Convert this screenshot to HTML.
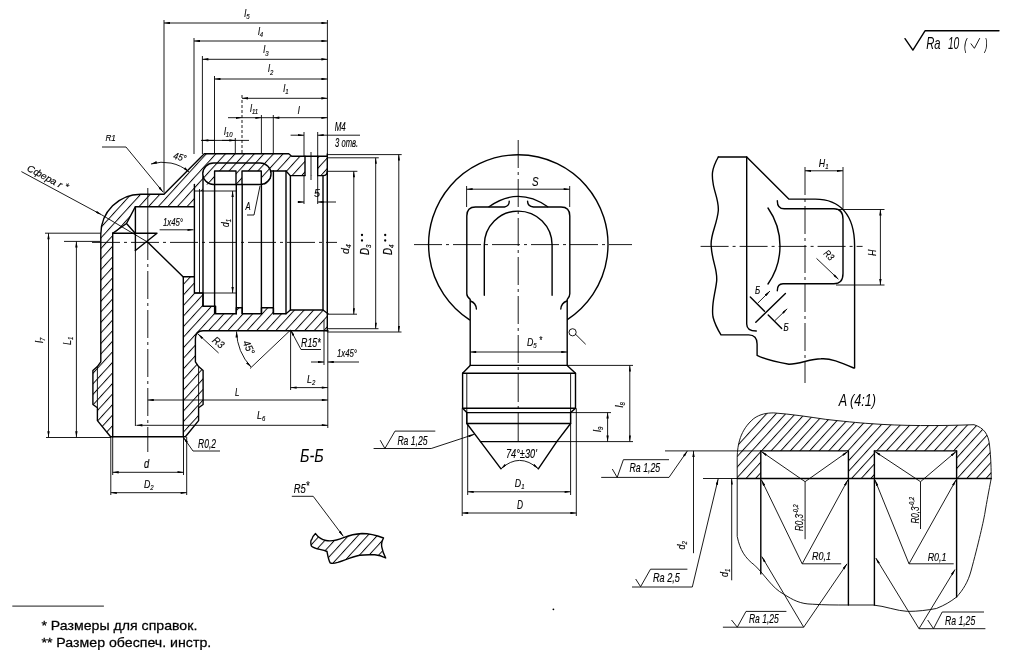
<!DOCTYPE html>
<html><head><meta charset="utf-8"><style>
html,body{margin:0;padding:0;background:#fff;width:1012px;height:650px;overflow:hidden}
svg{display:block;filter:grayscale(1)}
.k{stroke:#000;stroke-width:1.4;fill:none;stroke-linejoin:round;stroke-linecap:round}
.t{stroke:#000;stroke-width:0.9;fill:none}
.cl{stroke:#000;stroke-width:0.9;fill:none;stroke-dasharray:28 4 3 4}
.it{font-family:"Liberation Sans",sans-serif;font-style:italic;fill:#000;stroke:#000;stroke-width:0.15}
.thin{stroke:none}
.nt{font-family:"Liberation Sans",sans-serif;fill:#000;stroke:#000;stroke-width:0.25}
</style></head><body>
<svg width="1012" height="650" viewBox="0 0 1012 650">
<defs>
<marker id="ar" viewBox="0 0 10 4" refX="10" refY="2" markerWidth="8" markerHeight="2.4" markerUnits="userSpaceOnUse" orient="auto-start-reverse"><path d="M0,0 L10,2 L0,4 Z" fill="#000"/></marker>
<pattern id="h6" width="7.1" height="7.1" patternUnits="userSpaceOnUse" patternTransform="rotate(42.3)"><line x1="0.5" y1="-1" x2="0.5" y2="9" stroke="#000" stroke-width="0.95"/></pattern>
<pattern id="h10" width="7.1" height="7.1" patternUnits="userSpaceOnUse" patternTransform="rotate(42.3)"><line x1="0.5" y1="-1" x2="0.5" y2="9" stroke="#000" stroke-width="0.95"/></pattern>
<pattern id="h9" width="7.1" height="7.1" patternUnits="userSpaceOnUse" patternTransform="rotate(42.3)"><line x1="0.5" y1="-1" x2="0.5" y2="9" stroke="#000" stroke-width="0.95"/></pattern>
</defs>
<rect width="1012" height="650" fill="#fff"/>

<path fill="url(#h6)" d="M327.3,156.3 L291.7,156.3 L288.7,153.8 L204.3,153.8 L164,194.2 L141,194.2 A40,40 0 0 0 101,234.2 L113,234.2 L126.5,223.5 L135.4,206.7 L194.4,206.7 L194.4,191 L202.8,191 L202.8,184.5 L271,184.5 L271,171 L286,171 L290.2,175.6 L327.3,175.6 Z"/>
<path fill="url(#h10)" d="M100.8,234 L100.8,361.8 L97.4,366.6 L92.9,370.6 L92.9,404.5 L97.4,407.7 L97.4,420.6 L110.6,436.8 L112.7,436.8 L112.7,234 Z"/>
<path fill="url(#h6)" d="M183.3,436.8 L185.4,436.8 L198.6,420.6 L198.6,407.7 L203.1,404.5 L203.1,370.6 L198.6,366.6 L195.4,361.8 L195.4,339 Q195.4,330.8 203,330.8 L328,330.8 L328,313.7 L323,310 L290.4,310 L286,313.7 L273.4,313.7 L273.4,307.8 L261.5,307.8 L261.5,313.7 L242.2,313.7 L242.2,307.8 L236.3,307.8 L236.3,313.7 L215.6,313.7 L215.6,306.3 L203,306.3 L203,293 L194.1,293 L194.1,276.7 L183.3,276.7 Z"/>
<path fill="#fff" d="M214.6,171 H236 V184.5 H214.6 Z M242,171 H261.3 V184.5 H242 Z M305,156.3 H317.7 V175.6 H305 Z"/>
<path class="k" d="M327.3,156.3 L291.7,156.3 L288.7,153.8 L204.3,153.8 L164,194.2 L141,194.2 A40,40 0 0 0 100.8,234.2 L100.8,361.8 L97.4,366.6 L92.9,370.6 L92.9,404.5 L97.4,407.7 L97.4,420.6 L110.6,436.8 L185.4,436.8 L198.6,420.6 L198.6,407.7 L203.1,404.5 L203.1,370.6 L198.6,366.6 L195.4,361.8 L195.4,339 Q195.4,330.8 203,330.8 L328,330.8" />
<path class="k" d="M112.7,436.8 V233.2" />
<path class="k" d="M183.3,436.8 V276.7 H194.1" />
<path class="t" d="M97.4,366.6 V407.7" />
<path class="t" d="M198.6,366.6 V407.7" />
<path class="k" d="M135.4,250.5 V206.7 H194.4 V293 H203 V306.3 H215.6 V313.7 H236.3 V307.8 H242.2 V313.7 H261.5 V307.8 H273.4 V313.7 H286 L290.4,310 H323 L328,313.7" />
<path class="k" d="M126.5,223.5 L135.4,206.7 M126.5,223.5 L112.7,233.2 M126.5,223.5 L135.4,233.5" />
<path class="k" d="M112.7,233.2 H157 L135.4,250.5" />
<path class="k" d="M147.5,242 L183.3,277" />
<path class="k" d="M213.5,163 H260.3 A10.75,10.75 0 0 1 260.3,184.5 H213.5 A10.75,10.75 0 0 1 213.5,163 Z" />
<path class="k" d="M214.6,171 H236 V184.5 M214.6,171 V184.5 M242,171 H261.3 V184.5 M242,171 V184.5" />
<path class="k" d="M271,171 H286 L290.2,175.6 H305 M317.7,175.6 H323 Q327.3,175.6 327.3,171" />
<path class="k" d="M305,156.3 V175.6 M317.7,156.3 V175.6" />
<line class="cl" x1="311" y1="152" x2="311" y2="180" />
<line class="t" x1="199.5" y1="189" x2="199.5" y2="293" />
<line class="k" x1="203" y1="177" x2="203" y2="306.3" />
<line class="k" x1="214.6" y1="184.5" x2="214.6" y2="313.7" />
<line class="k" x1="236.3" y1="184.5" x2="236.3" y2="313.7" />
<line class="k" x1="242.2" y1="184.5" x2="242.2" y2="313.7" />
<line class="k" x1="261.4" y1="184.5" x2="261.4" y2="313.7" />
<line class="k" x1="273.4" y1="171" x2="273.4" y2="313.7" />
<line class="k" x1="286" y1="171" x2="286" y2="313.7" />
<line class="k" x1="290.4" y1="175.6" x2="290.4" y2="310" />
<line class="k" x1="323" y1="175.6" x2="323" y2="310" />
<line class="k" x1="327.3" y1="154" x2="327.3" y2="331" />
<line class="k" x1="194.4" y1="184.5" x2="194.4" y2="207" />
<line class="t" x1="194.4" y1="191" x2="236" y2="191" />
<line class="t" x1="194.1" y1="293" x2="236.3" y2="293" />
<line class="t" x1="232.6" y1="191" x2="232.6" y2="293" marker-start="url(#ar)" marker-end="url(#ar)"/>
<text class="it" transform="translate(228.5,227) rotate(-90) scale(0.8,1)" font-size="10.5" text-anchor="start" >d<tspan font-size="7.5" dy="2">1</tspan></text>
<line class="cl" x1="92" y1="242.4" x2="337" y2="242.4" />
<line class="t" x1="147.8" y1="188" x2="147.8" y2="232" />
<line class="cl" x1="147.8" y1="232" x2="147.8" y2="452" />
<line class="t" x1="164" y1="23" x2="327.4" y2="23" marker-start="url(#ar)" marker-end="url(#ar)"/>
<line class="t" x1="194" y1="41" x2="327.4" y2="41" marker-start="url(#ar)" marker-end="url(#ar)"/>
<line class="t" x1="202.4" y1="59.3" x2="327.4" y2="59.3" marker-start="url(#ar)" marker-end="url(#ar)"/>
<line class="t" x1="214.5" y1="79" x2="327.4" y2="79" marker-start="url(#ar)" marker-end="url(#ar)"/>
<line class="t" x1="242" y1="98.3" x2="327.4" y2="98.3" marker-start="url(#ar)" marker-end="url(#ar)"/>
<line class="t" x1="228" y1="117.7" x2="242" y2="117.7" marker-end="url(#ar)"/>
<line class="t" x1="242" y1="117.7" x2="261.4" y2="117.7" marker-end="url(#ar)"/>
<line class="t" x1="261.4" y1="117.7" x2="273.3" y2="117.7" />
<line class="t" x1="273.3" y1="117.7" x2="327.4" y2="117.7" marker-start="url(#ar)" marker-end="url(#ar)"/>
<line class="t" x1="201" y1="140.4" x2="249" y2="140.4" />
<line class="t" x1="214" y1="140.4" x2="202.4" y2="140.4" marker-end="url(#ar)"/>
<line class="t" x1="222" y1="140.4" x2="235.3" y2="140.4" marker-end="url(#ar)"/>
<line class="t" x1="290.6" y1="135.2" x2="304" y2="135.2" marker-end="url(#ar)"/>
<line class="t" x1="360" y1="135.2" x2="317.7" y2="135.2" marker-end="url(#ar)"/>
<line class="t" x1="164" y1="20" x2="164" y2="193" />
<line class="t" x1="194" y1="38" x2="194" y2="154" />
<line class="t" x1="202.4" y1="56" x2="202.4" y2="154" />
<line class="t" x1="214.5" y1="76" x2="214.5" y2="154" />
<line class="t" x1="235.3" y1="138" x2="235.3" y2="154" />
<line class="t" x1="261.4" y1="115" x2="261.4" y2="154" />
<line class="t" x1="273.3" y1="115" x2="273.3" y2="154" />
<line class="t" x1="304" y1="132" x2="304" y2="156" />
<line class="t" x1="317.7" y1="132" x2="317.7" y2="156" />
<line class="t" x1="327.4" y1="20" x2="327.4" y2="156" />
<line class="t" x1="242" y1="95" x2="242" y2="154" stroke-dasharray="3 2" stroke-width="0.7"/>
<text class="it" transform="translate(244.3,16.7) scale(0.8,1)" font-size="11" text-anchor="start" >l<tspan font-size="7.5" dy="2.5">5</tspan></text>
<text class="it" transform="translate(257.9,34.6) scale(0.8,1)" font-size="11" text-anchor="start" >l<tspan font-size="7.5" dy="2.5">4</tspan></text>
<text class="it" transform="translate(263.3,53.4) scale(0.8,1)" font-size="11" text-anchor="start" >l<tspan font-size="7.5" dy="2.5">3</tspan></text>
<text class="it" transform="translate(268,72.3) scale(0.8,1)" font-size="11" text-anchor="start" >l<tspan font-size="7.5" dy="2.5">2</tspan></text>
<text class="it" transform="translate(283.2,91.7) scale(0.8,1)" font-size="11" text-anchor="start" >l<tspan font-size="7.5" dy="2.5">1</tspan></text>
<text class="it" transform="translate(250,111.8) scale(0.8,1)" font-size="11" text-anchor="start" >l<tspan font-size="7.5" dy="2.5">11</tspan></text>
<text class="it" transform="translate(297.7,113.6) scale(0.8,1)" font-size="11" text-anchor="start" >l</text>
<text class="it" transform="translate(223.9,134.5) scale(0.8,1)" font-size="11" text-anchor="start" >l<tspan font-size="7.5" dy="2.5">10</tspan></text>
<text class="it" transform="translate(334.70,130.9) scale(0.654,1)" font-size="12.21">M4</text>
<text class="it" transform="translate(335.00,147.2) scale(0.612,1)" font-size="12.50">3 отв.</text>
<path class="t" d="M102,147 H126 L163,192" marker-end="url(#ar)"/>
<text class="it" transform="translate(105.40,140.8) scale(0.847,1)" font-size="9.59">R1</text>
<path class="t" d="M151,164 A40,40 0 0 1 189,172" marker-start="url(#ar)" marker-end="url(#ar)"/>
<text class="it" transform="translate(172.8,158.6) rotate(15) scale(0.9,1)" font-size="9.5" text-anchor="start" >45°</text>
<line class="t" x1="21.4" y1="171.6" x2="101.6" y2="214.8" marker-end="url(#ar)"/>
<line class="t" x1="101.6" y1="214.8" x2="147.5" y2="242" />
<text class="it" transform="translate(26.3,170.2) rotate(28.2) scale(1.05,1)" font-size="9.5" text-anchor="start" >Сфера r <tspan dy="-1.5">*</tspan></text>
<line class="t" x1="159.6" y1="229.8" x2="193.5" y2="229.8" marker-end="url(#ar)"/>
<text class="it" transform="translate(163.00,226) scale(0.669,1)" font-size="11.63">1x45°</text>
<line class="t" x1="45" y1="233.2" x2="101" y2="233.2" />
<line class="t" x1="64" y1="241.4" x2="100" y2="241.4" />
<line class="t" x1="48.5" y1="233.2" x2="48.5" y2="437.3" marker-start="url(#ar)" marker-end="url(#ar)"/>
<line class="t" x1="76.4" y1="241.4" x2="76.4" y2="437.3" marker-start="url(#ar)" marker-end="url(#ar)"/>
<line class="t" x1="46" y1="437.5" x2="111" y2="437.5" />
<text class="it" transform="translate(43,343) rotate(-90) scale(0.8,1)" font-size="11" text-anchor="start" >l<tspan font-size="7.5" dy="2">7</tspan></text>
<text class="it" transform="translate(71,345) rotate(-90) scale(0.8,1)" font-size="11" text-anchor="start" >L<tspan font-size="7.5" dy="2">1</tspan></text>
<line class="t" x1="327.4" y1="154.6" x2="401.7" y2="154.6" />
<line class="t" x1="327.4" y1="157.8" x2="378.8" y2="157.8" />
<line class="t" x1="327.4" y1="171.3" x2="357.4" y2="171.3" />
<line class="t" x1="327.4" y1="314.2" x2="357" y2="314.2" />
<line class="t" x1="327.4" y1="328.7" x2="378.5" y2="328.7" />
<line class="t" x1="327.4" y1="332" x2="401.5" y2="332" />
<line class="t" x1="353.8" y1="171.3" x2="353.8" y2="314.2" marker-start="url(#ar)" marker-end="url(#ar)"/>
<line class="t" x1="375.7" y1="157.8" x2="375.7" y2="328.7" marker-start="url(#ar)" marker-end="url(#ar)"/>
<line class="t" x1="398.8" y1="154.6" x2="398.8" y2="332" marker-start="url(#ar)" marker-end="url(#ar)"/>
<text class="it" transform="translate(348.8,254) rotate(-90) scale(0.95,1)" font-size="11" text-anchor="start" >d<tspan font-size="7.5" dy="2">4</tspan></text>
<text class="it" transform="translate(369,255) rotate(-90) scale(0.82,1)" font-size="12" text-anchor="start" >D<tspan font-size="7.5" dy="2">3</tspan></text>
<circle cx="362" cy="235" r="1.15"/><circle cx="362" cy="240.5" r="1.15"/>
<text class="it" transform="translate(391.8,255) rotate(-90) scale(0.82,1)" font-size="12" text-anchor="start" >D<tspan font-size="7.5" dy="2">4</tspan></text>
<circle cx="385.2" cy="235" r="1.15"/><circle cx="385.2" cy="240.5" r="1.15"/>
<line class="t" x1="297.6" y1="202" x2="304" y2="202" marker-end="url(#ar)"/>
<line class="t" x1="336" y1="202" x2="317.7" y2="202" marker-end="url(#ar)"/>
<line class="t" x1="304" y1="176" x2="304" y2="204" />
<line class="t" x1="317.7" y1="176" x2="317.7" y2="204" />
<text class="it" transform="translate(314.00,197) scale(1.053,1)" font-size="10.17">5</text>
<path class="t" d="M247,215 H254 L260,186" />
<text class="it" transform="translate(245.38,210) scale(0.657,1)" font-size="11.63">A</text>
<path class="t" d="M198,334 L218.6,353" marker-start="url(#ar)"/>
<text class="it" transform="translate(211.5,341.5) rotate(38) scale(0.9,1)" font-size="10.5" text-anchor="start" >R3</text>
<line class="t" x1="290.6" y1="330" x2="250" y2="368.5" />
<path class="t" d="M236.5,331.5 A55,55 0 0 0 251,367" marker-start="url(#ar)" marker-end="url(#ar)"/>
<text class="it" transform="translate(242.5,342.5) rotate(65) scale(0.9,1)" font-size="10.5" text-anchor="start" >45°</text>
<path class="t" d="M290.6,330 L301,349.5 H321" marker-start="url(#ar)"/>
<text class="it" transform="translate(301.00,347) scale(0.719,1)" font-size="12.35">R15*</text>
<line class="t" x1="290.6" y1="331" x2="290.6" y2="390" />
<line class="t" x1="324" y1="320" x2="324" y2="365" />
<line class="t" x1="311" y1="362" x2="324" y2="362" marker-end="url(#ar)"/>
<line class="t" x1="359" y1="362" x2="327.8" y2="362" marker-end="url(#ar)"/>
<text class="it" transform="translate(337.00,356.8) scale(0.669,1)" font-size="11.63">1x45°</text>
<line class="t" x1="290.6" y1="387.6" x2="327.8" y2="387.6" marker-start="url(#ar)" marker-end="url(#ar)"/>
<text class="it" transform="translate(307,383) scale(0.8,1)" font-size="11" text-anchor="start" >L<tspan font-size="7.5" dy="2">2</tspan></text>
<line class="t" x1="327.8" y1="331" x2="327.8" y2="428" />
<line class="t" x1="147.8" y1="400" x2="327.8" y2="400" marker-start="url(#ar)" marker-end="url(#ar)"/>
<text class="it" transform="translate(235.00,396) scale(0.691,1)" font-size="11.63">L</text>
<line class="t" x1="136.4" y1="425.3" x2="327.8" y2="425.3" marker-start="url(#ar)" marker-end="url(#ar)"/>
<line class="t" x1="135.4" y1="250.5" x2="135.4" y2="426" />
<text class="it" transform="translate(257,419) scale(0.8,1)" font-size="11" text-anchor="start" >L<tspan font-size="7.5" dy="2">6</tspan></text>
<path class="t" d="M183.5,437.5 L193,451 H220" marker-start="url(#ar)"/>
<text class="it" transform="translate(198.00,447.5) scale(0.690,1)" font-size="12.35">R0,2</text>
<line class="t" x1="112.7" y1="437" x2="112.7" y2="475" />
<line class="t" x1="183.5" y1="437" x2="183.5" y2="475" />
<line class="t" x1="110.8" y1="437" x2="110.8" y2="495" />
<line class="t" x1="186.7" y1="437" x2="186.7" y2="495" />
<line class="t" x1="112.7" y1="472.3" x2="183.5" y2="472.3" marker-start="url(#ar)" marker-end="url(#ar)"/>
<line class="t" x1="110.8" y1="492.7" x2="186.7" y2="492.7" marker-start="url(#ar)" marker-end="url(#ar)"/>
<text class="it" transform="translate(144.00,468) scale(0.755,1)" font-size="12.35">d</text>
<text class="it" transform="translate(144,487.5) scale(0.8,1)" font-size="11" text-anchor="start" >D<tspan font-size="7.5" dy="2">2</tspan></text>
<text class="it thin" transform="translate(300.00,461.8) scale(0.810,1)" font-size="17.88">Б-Б</text>
<path class="k" d="M469.6,319.8 A89.7,89.7 0 1 1 567,319.8" />
<path fill="#fff" d="M466.8,294 V216 Q466.8,207 475.5,207 H561 Q569.8,207 569.8,216 V294 Q569.8,299 567,301 V366 H470.2 V301 Q466.8,299 466.8,294 Z"/>
<path class="k" d="M470.2,365.4 V299.4 Q466.8,297 466.8,293.8 V216 Q466.8,207 475.5,207 H504.5 Q509.5,206 509.2,201.3" />
<path class="k" d="M567.2,365.4 V299.4 Q569.8,297 569.8,293.8 V216 Q569.8,207 561,207 H533.5 Q527.5,206 527.6,201.3" />
<path class="k" d="M489,206.7 Q518.2,186 547.7,206.7" />
<path class="k" d="M470.5,301 Q476,303 476.4,309 M566.8,301 Q561.3,303 560.8,309" />
<path class="k" d="M484.3,295.2 V245 A33.9,33.9 0 0 1 552.1,245 V295.2" />
<line class="cl" x1="414" y1="244.6" x2="632" y2="244.6" />
<line class="cl" x1="518.2" y1="140" x2="518.2" y2="442" />
<line class="t" x1="466.6" y1="186" x2="466.6" y2="207" />
<line class="t" x1="569.7" y1="186" x2="569.7" y2="207" />
<line class="t" x1="466.6" y1="189.2" x2="569.7" y2="189.2" marker-start="url(#ar)" marker-end="url(#ar)"/>
<text class="it" transform="translate(532.00,185.5) scale(0.797,1)" font-size="12.35">S</text>
<line class="t" x1="470.2" y1="352" x2="567.2" y2="352" marker-start="url(#ar)" marker-end="url(#ar)"/>
<text class="it" transform="translate(527,346.4) scale(0.8,1)" font-size="11" text-anchor="start" >D<tspan font-size="7.5" dy="2">5</tspan><tspan dy="-4" font-size="10"> *</tspan></text>
<circle cx="572.6" cy="332.3" r="3.6" class="t"/>
<line class="t" x1="575.5" y1="334.2" x2="585.7" y2="344.3" />
<path class="k" d="M470.2,365.4 H567.2 L575.5,373.3 V408.3 L570.6,412.6 V423.5 L556.8,441.6 M470.2,365.4 L462.6,373.3 V408.3 L466.8,412.6 V423.5 L480.5,441.6" />
<path class="k" d="M462.6,373.3 H575.5 M462.6,408.3 H575.5 M466.8,412.6 H570.6 M466.8,423.5 H570.6 M480.5,441.6 H556.8" />
<path class="k" d="M480.5,441.6 L501,468.8 M556.8,441.6 L538.3,468.8" />
<line class="t" x1="466.8" y1="373.3" x2="466.8" y2="423.5" />
<line class="t" x1="570.6" y1="373.3" x2="570.6" y2="423.5" />
<path class="t" d="M501,468.8 Q519.6,452 538.3,468.8" marker-start="url(#ar)" marker-end="url(#ar)"/>
<text class="it" transform="translate(505.90,457.8) scale(0.690,1)" font-size="13.37">74°±30'</text>
<line class="t" x1="567.2" y1="365.4" x2="633" y2="365.4" />
<line class="t" x1="570.6" y1="412.6" x2="611" y2="412.6" />
<line class="t" x1="556.8" y1="441.6" x2="633" y2="441.6" />
<line class="t" x1="629.8" y1="365.4" x2="629.8" y2="441.6" marker-start="url(#ar)" marker-end="url(#ar)"/>
<line class="t" x1="607.6" y1="412.6" x2="607.6" y2="441.6" marker-start="url(#ar)" marker-end="url(#ar)"/>
<text class="it" transform="translate(622.5,407.5) rotate(-90) scale(0.8,1)" font-size="11" text-anchor="start" >l<tspan font-size="7.5" dy="2">8</tspan></text>
<text class="it" transform="translate(600.5,432) rotate(-90) scale(0.8,1)" font-size="11" text-anchor="start" >l<tspan font-size="7.5" dy="2">9</tspan></text>
<line class="t" x1="467.7" y1="423.5" x2="467.7" y2="495" />
<line class="t" x1="570.6" y1="423.5" x2="570.6" y2="495" />
<line class="t" x1="462.2" y1="408.3" x2="462.2" y2="516" />
<line class="t" x1="576.3" y1="408.3" x2="576.3" y2="516" />
<line class="t" x1="467.7" y1="491.8" x2="570.6" y2="491.8" marker-start="url(#ar)" marker-end="url(#ar)"/>
<line class="t" x1="462.2" y1="513" x2="576.3" y2="513" marker-start="url(#ar)" marker-end="url(#ar)"/>
<text class="it" transform="translate(514.8,487) scale(0.8,1)" font-size="11" text-anchor="start" >D<tspan font-size="7.5" dy="2">1</tspan></text>
<text class="it" transform="translate(517.00,509) scale(0.637,1)" font-size="13.08">D</text>
<path class="t" d="M380.2,440.2 L384.9,448.5 L395,431.1 H435.3" />
<path class="t" d="M373.6,448.5 H431.2 L474.4,434.3" marker-end="url(#ar)"/>
<text class="it" transform="translate(397.40,444.5) scale(0.722,1)" font-size="11.92">Ra 1,25</text>
<path class="k" d="M718.3,157 C711,170 712,176 713,182.5 C714,192 719,200 718.3,210.8 C717,225 710,235 711.2,246 C712,262 718,270 716.6,281.6 C715,295 711,305 713,317 C715,325 718,330 721,334.9 H748.7 Q757.1,335 757.1,344 V355.4 C762,358 770,361 789,364.3 C800,364 810,359 821,358.8 C830,358 840,362 853.7,368" />
<path class="k" d="M718.3,157 H746.7 L788.8,199.1 H815.3 C840,199.1 854.6,215 854.6,245.7 V368" />
<path class="k" d="M746.7,157 V324 Q746.7,331 756.3,331" />
<path class="k" d="M777.3,200.7 Q777.3,208.8 784.2,208.8 H833.8 Q843,208.8 843,219.2 V273.6 Q843,283.8 833.8,283.8 H783 Q777.3,283.8 777.3,290.7" />
<path class="k" d="M768,208 A66.2,66.2 0 0 1 768,284" />
<line class="cl" x1="700.6" y1="246.4" x2="862.6" y2="246.4" />
<line class="cl" x1="805" y1="167" x2="805" y2="383" />
<line class="t" x1="843" y1="167" x2="843" y2="208.8" />
<line class="t" x1="805" y1="170.8" x2="843" y2="170.8" marker-start="url(#ar)" marker-end="url(#ar)"/>
<text class="it" transform="translate(818.8,166.5) scale(0.8,1)" font-size="11" text-anchor="start" >H<tspan font-size="7.5" dy="2">1</tspan></text>
<line class="t" x1="836" y1="209.5" x2="884.5" y2="209.5" />
<line class="t" x1="836" y1="285" x2="884.5" y2="285" />
<line class="t" x1="880.4" y1="209.5" x2="880.4" y2="285" marker-start="url(#ar)" marker-end="url(#ar)"/>
<text class="it" transform="translate(875.5,256) rotate(-90) scale(0.8,1)" font-size="11" text-anchor="start" >H</text>
<line class="t" x1="816.5" y1="258.4" x2="838.4" y2="279.2" marker-end="url(#ar)"/>
<text class="it" transform="translate(823,254) rotate(45) scale(0.8,1)" font-size="10" text-anchor="start" >R3</text>
<line class="k" x1="750.3" y1="297" x2="764.5" y2="311.2" />
<line class="k" x1="768.2" y1="315" x2="781.7" y2="328.5" />
<line class="k" x1="755.8" y1="322.3" x2="785.4" y2="293.4" />
<line class="t" x1="757.7" y1="303.2" x2="770" y2="291" marker-end="url(#ar)"/>
<line class="t" x1="775" y1="320.5" x2="787.2" y2="308.8" marker-end="url(#ar)"/>
<text class="it" transform="translate(755,294) scale(0.8,1)" font-size="10" text-anchor="start" >Б</text>
<text class="it" transform="translate(783.5,331) scale(0.8,1)" font-size="10" text-anchor="start" >Б</text>
<path fill="url(#h9)" d="M737.2,478.5 V457.3 C737.5,445 740,430 753.7,418.6 C760,414 767,412.9 773.7,412.9 C790,414 810,417 825.3,419.3 C840,421 860,423 870,423.6 C900,426 940,426 974,424.7 C984,428 988.3,434 989.5,445 C991,458 991.2,470 991.2,478.5 Z"/>
<path fill="#fff" d="M760.8,450.9 H848 V479 H760.8 Z M874.4,450.9 H956.6 V479 H874.4 Z"/>
<path class="t" d="M737.2,478.5 V457.3 C737.5,445 740,430 753.7,418.6 C760,414 767,412.9 773.7,412.9 C790,414 810,417 825.3,419.3 C840,421 860,423 870,423.6 C900,426 940,426 974,424.7 C984,428 988.3,434 989.5,445 C991,458 991.2,470 991.2,478.5" stroke-width="1.15"/>
<path class="t" d="M737.2,478.5 V536.4 C740,550 745,558 754.6,565.2 C765,575 772,588 783.5,594 C793,600 800,604 812.3,604.2 C825,605 835,605 847,605 H873 C885,606 897,611 907.5,611.4 C918,611.5 928,610 936.4,608.5 C945,605 950,602 956.6,597 C963,590 968,582 971,571 C978,545 984,520 985.4,510 C988,495 990,485 991.2,478.5" stroke-width="1.05"/>
<path class="k" d="M760.8,450.9 H848 M874.4,450.9 H956.6" />
<line class="t" x1="665" y1="450.9" x2="760.8" y2="450.9" />
<line class="t" x1="703" y1="478.5" x2="737.2" y2="478.5" />
<line class="k" x1="737.2" y1="478.5" x2="991.2" y2="478.5" />
<line class="k" x1="760.8" y1="450.9" x2="760.8" y2="573.9" />
<line class="k" x1="848.4" y1="450.9" x2="848.4" y2="605" />
<line class="k" x1="874.4" y1="450.9" x2="874.4" y2="605" />
<line class="k" x1="956.6" y1="450.9" x2="956.6" y2="597" />
<line class="t" x1="805.1" y1="481.7" x2="761.3" y2="451.5" marker-end="url(#ar)"/>
<line class="t" x1="805.1" y1="481.7" x2="847.9" y2="451.5" marker-end="url(#ar)"/>
<line class="t" x1="920.5" y1="481.7" x2="874.9" y2="451.5" marker-end="url(#ar)"/>
<line class="t" x1="920.5" y1="481.7" x2="956.1" y2="451.5" marker-end="url(#ar)"/>
<line class="t" x1="805.1" y1="481.7" x2="805.1" y2="539.2" />
<line class="t" x1="920.5" y1="481.7" x2="920.5" y2="529" />
<path class="t" d="M841.2,563.8 H802.2 L761.5,480" marker-end="url(#ar)"/>
<line class="t" x1="802.2" y1="563.8" x2="847.8" y2="480" marker-end="url(#ar)"/>
<path class="t" d="M953.7,563.8 H909 L875,480" marker-end="url(#ar)"/>
<line class="t" x1="909" y1="563.8" x2="956" y2="480" marker-end="url(#ar)"/>
<text class="it" transform="translate(812.00,560) scale(0.774,1)" font-size="11.63">R0,1</text>
<text class="it" transform="translate(927.70,560.7) scale(0.766,1)" font-size="11.63">R0,1</text>
<text class="it" transform="translate(803,531) rotate(-90) scale(0.8,1)" font-size="10" text-anchor="start" >R0,3<tspan font-size="7" dy="-5">-0,2</tspan></text>
<text class="it" transform="translate(918.5,523.4) rotate(-90) scale(0.8,1)" font-size="10" text-anchor="start" >R0,3<tspan font-size="7" dy="-5">-0,2</tspan></text>
<line class="t" x1="803.7" y1="627.2" x2="761.8" y2="556.6" marker-end="url(#ar)"/>
<line class="t" x1="803.7" y1="627.2" x2="847" y2="563.8" marker-end="url(#ar)"/>
<line class="t" x1="919" y1="628.7" x2="875.8" y2="558" marker-end="url(#ar)"/>
<line class="t" x1="919" y1="628.7" x2="955" y2="569.5" marker-end="url(#ar)"/>
<path class="t" d="M731.5,620 L737.3,627.2 L746,611.4 H786.4" />
<line class="t" x1="722.9" y1="627.2" x2="803.7" y2="627.2" />
<text class="it" transform="translate(748.90,623) scale(0.670,1)" font-size="12.79">Ra 1,25</text>
<path class="t" d="M927.7,620 L933.5,628.7 L942.2,612 H984" />
<line class="t" x1="919" y1="628.7" x2="985.4" y2="628.7" />
<text class="it" transform="translate(945.00,624.5) scale(0.675,1)" font-size="12.79">Ra 1,25</text>
<line class="t" x1="731.7" y1="478.5" x2="731.7" y2="580.3" marker-start="url(#ar)"/>
<text class="it" transform="translate(727.5,577) rotate(-90) scale(0.8,1)" font-size="11" text-anchor="start" >d<tspan font-size="7.5" dy="2">1</tspan></text>
<line class="t" x1="693.5" y1="450.9" x2="693.5" y2="553.2" marker-start="url(#ar)"/>
<text class="it" transform="translate(685,549.5) rotate(-90) scale(0.8,1)" font-size="11" text-anchor="start" >d<tspan font-size="7.5" dy="2">2</tspan></text>
<path class="t" d="M612.3,469 L617.2,477.4 L623.4,459.7 H669" />
<path class="t" d="M601.2,477.4 H669 L687.4,450.9" marker-end="url(#ar)"/>
<text class="it" transform="translate(629.50,472) scale(0.710,1)" font-size="12.35">Ra 1,25</text>
<path class="t" d="M635.7,579 L640.6,586.7 L650.5,569.2 H687.4" />
<path class="t" d="M632,587 H692.3 L718.2,478.8" marker-end="url(#ar)"/>
<text class="it" transform="translate(653.00,581.5) scale(0.741,1)" font-size="12.35">Ra 2,5</text>
<text class="it thin" transform="translate(838.63,405.8) scale(0.736,1)" font-size="17.15">A (4:1)</text>
<path style="fill:url(#h9)" class="k" d="M315.5,533.6 C318,537 321,539.5 326,540.5 C332,541.8 338,540 344.3,537.4 C350,535 355,533.9 362,533.5 C370,533.5 377,535.5 383.5,538 C382,541 381,544 381.8,547.2 C382.5,551 384,555 385.7,558 C382,556 378,555 374.8,554.8 C368,554.5 363,554.8 359.6,555.3 C352,557 345,560 337.8,562.4 C334,563.5 331,563.3 330.2,562.9 C328.5,560 328,557 327,551.5 C324,550 320,549.5 317.2,548.8 C313,547.5 311.2,546 311.2,545.5 C310.5,542 311,540 311.7,539.6 C312.5,537 314,535 315.5,533.6 Z"/>
<path class="t" d="M291.8,496.3 H313.2 L343.3,536.3" marker-end="url(#ar)"/>
<text class="it" transform="translate(293.80,492.8) scale(0.762,1)" font-size="12.35">R5<tspan dy="-3">*</tspan></text>
<path class="k" d="M905,38.7 L912.9,50.1 L925,30.8 H999" />
<text class="it thin" transform="translate(926.20,48.9) scale(0.717,1)" font-size="15.70">Ra</text>
<text class="it thin" transform="translate(947.90,48.9) scale(0.654,1)" font-size="15.70">10</text>
<text class="it thin" transform="translate(964.10,49.5) scale(0.561,1)" font-size="15.70">(</text>
<text class="it thin" transform="translate(984.84,49.5) scale(0.533,1)" font-size="15.70">)</text>
<path class="t" d="M970.8,43.5 L974.4,48.3 L979.8,38.1" stroke-width="1.2"/>
<line class="t" x1="12.3" y1="606.1" x2="103.9" y2="606.1" />
<text class="nt" transform="translate(41.40,629.8) scale(1.036,1)" font-size="13.66">* Размеры для справок.</text>
<text class="nt" transform="translate(41.40,647.2) scale(1.038,1)" font-size="13.66">** Размер обеспеч. инстр.</text>
<circle cx="553.4" cy="609.3" r="0.9" fill="#000"/>
</svg></body></html>
